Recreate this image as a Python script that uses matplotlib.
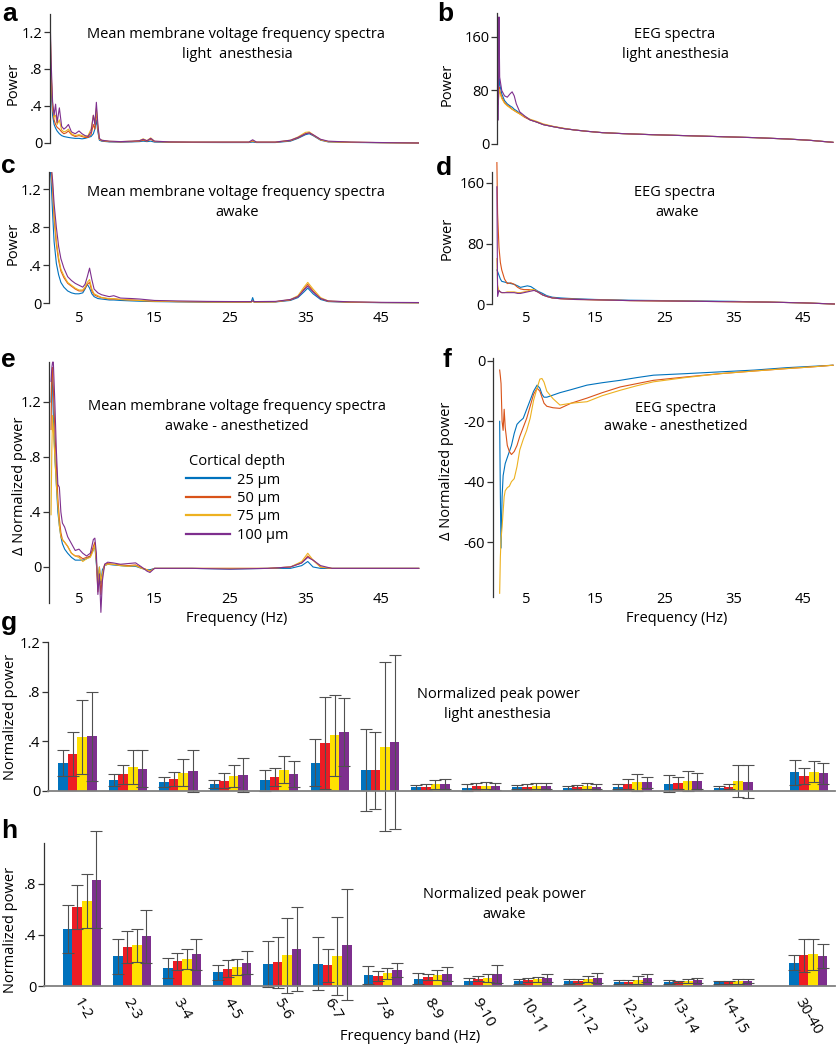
import numpy as np
import matplotlib.pyplot as plt
from matplotlib.lines import Line2D

plt.rcParams['font.family'] = ['Open Sans', 'DejaVu Sans']

# ---------------- data ----------------
depths = ['25 µm', '50 µm', '75 µm', '100 µm']
line_colors = ['#0072BD', '#D95319', '#EDB120', '#7E2F8E']
bar_colors = ['#0072BD', '#ED1C24', '#FFE100', '#7E2F8E']

# a: membrane voltage spectra, light anesthesia
freq_a = [1.15, 1.3, 1.5, 1.7, 1.9, 2.1, 2.4, 2.7, 3.0, 3.3, 3.6, 4.0, 4.5, 5.0, 5.4, 5.8, 6.2, 6.6, 6.9, 7.1,
          7.3, 7.5, 7.7, 8.0, 9.0, 10.5, 12.0, 13.0, 13.5, 14.0, 14.5, 15.0, 17.0, 20.0, 24.0, 27.5, 28.0, 28.5,
          31.0, 33.0, 34.0, 35.0, 35.5, 36.0, 37.0, 38.0, 41.0, 45.0, 50.0]
a_25 = [1.3, 0.6, 0.3, 0.2, 0.16, 0.13, 0.1, 0.08, 0.07, 0.065, 0.06, 0.055, 0.05, 0.05, 0.045, 0.05, 0.06, 0.07,
        0.1, 0.15, 0.25, 0.12, 0.03, 0.02, 0.012, 0.01, 0.012, 0.015, 0.02, 0.015, 0.02, 0.01, 0.008, 0.006, 0.005,
        0.005, 0.01, 0.005, 0.005, 0.02, 0.05, 0.09, 0.1, 0.08, 0.03, 0.012, 0.006, 0.003, 0.0]
a_50 = [1.4, 0.75, 0.38, 0.25, 0.2, 0.17, 0.15, 0.12, 0.1, 0.11, 0.13, 0.09, 0.07, 0.08, 0.07, 0.06, 0.06, 0.09,
        0.2, 0.15, 0.35, 0.15, 0.04, 0.025, 0.015, 0.012, 0.015, 0.02, 0.03, 0.02, 0.04, 0.015, 0.01, 0.008, 0.008,
        0.008, 0.02, 0.008, 0.008, 0.025, 0.055, 0.1, 0.11, 0.085, 0.035, 0.015, 0.008, 0.004, 0.0]
a_75 = [1.38, 0.8, 0.4, 0.28, 0.3, 0.2, 0.25, 0.14, 0.12, 0.13, 0.15, 0.1, 0.08, 0.09, 0.08, 0.07, 0.08, 0.15,
        0.3, 0.22, 0.38, 0.18, 0.04, 0.03, 0.018, 0.015, 0.02, 0.025, 0.045, 0.025, 0.055, 0.018, 0.012, 0.01, 0.01,
        0.01, 0.025, 0.01, 0.01, 0.03, 0.065, 0.115, 0.12, 0.09, 0.035, 0.015, 0.008, 0.004, 0.0]
a_100 = [1.45, 0.9, 0.45, 0.3, 0.42, 0.22, 0.38, 0.18, 0.15, 0.17, 0.2, 0.12, 0.1, 0.13, 0.1, 0.08, 0.07, 0.12,
         0.3, 0.2, 0.44, 0.2, 0.05, 0.03, 0.02, 0.015, 0.02, 0.025, 0.04, 0.025, 0.05, 0.02, 0.012, 0.01, 0.01,
         0.01, 0.035, 0.01, 0.01, 0.03, 0.06, 0.1, 0.11, 0.09, 0.04, 0.02, 0.01, 0.005, 0.0]

# c: membrane voltage spectra, awake
freq_c = [1.15, 1.3, 1.5, 1.7, 2.0, 2.3, 2.6, 3.0, 3.5, 4.0, 4.5, 5.0, 5.5, 5.8, 6.1, 6.4, 6.7, 7.0, 7.5, 8.0,
          9.0, 9.6, 10.5, 12.0, 13.0, 15.0, 18.0, 22.0, 26.0, 27.8, 28.0, 28.2, 31.0, 33.0, 34.0, 34.8, 35.3,
          36.0, 37.0, 38.0, 41.0, 45.0, 50.0]
c_25 = [1.45, 1.3, 0.95, 0.65, 0.42, 0.3, 0.22, 0.17, 0.13, 0.11, 0.1, 0.1, 0.11, 0.15, 0.2, 0.16, 0.1, 0.07,
        0.05, 0.045, 0.035, 0.035, 0.03, 0.025, 0.022, 0.018, 0.015, 0.012, 0.012, 0.012, 0.06, 0.012, 0.014,
        0.03, 0.06, 0.12, 0.16, 0.1, 0.04, 0.018, 0.01, 0.007, 0.005]
c_50 = [1.45, 1.45, 1.2, 0.9, 0.62, 0.45, 0.34, 0.27, 0.21, 0.18, 0.15, 0.13, 0.13, 0.16, 0.2, 0.22, 0.13, 0.09,
        0.07, 0.06, 0.045, 0.045, 0.04, 0.035, 0.03, 0.022, 0.018, 0.015, 0.014, 0.014, 0.025, 0.014, 0.016,
        0.035, 0.07, 0.15, 0.2, 0.13, 0.05, 0.02, 0.012, 0.008, 0.006]
c_75 = [1.45, 1.45, 1.25, 0.95, 0.66, 0.48, 0.36, 0.29, 0.22, 0.19, 0.16, 0.14, 0.14, 0.17, 0.22, 0.25, 0.15,
        0.1, 0.08, 0.06, 0.05, 0.05, 0.04, 0.035, 0.03, 0.023, 0.018, 0.015, 0.014, 0.014, 0.02, 0.014, 0.016,
        0.04, 0.08, 0.17, 0.22, 0.15, 0.06, 0.025, 0.012, 0.008, 0.006]
c_100 = [1.45, 1.45, 1.3, 1.05, 0.8, 0.6, 0.47, 0.37, 0.28, 0.24, 0.21, 0.19, 0.17, 0.2, 0.28, 0.37, 0.25, 0.15,
         0.11, 0.09, 0.07, 0.08, 0.055, 0.05, 0.045, 0.03, 0.025, 0.02, 0.018, 0.018, 0.025, 0.018, 0.02, 0.04,
         0.07, 0.14, 0.18, 0.12, 0.05, 0.025, 0.015, 0.01, 0.008]

# e: membrane voltage, awake - anesthetized
freq_e = [1.3, 1.4, 1.5, 1.6, 1.8, 2.0, 2.2, 2.4, 2.6, 2.8, 3.1, 3.5, 4.0, 4.5, 5.0, 5.5, 6.0, 6.5, 6.9, 7.1,
          7.3, 7.5, 7.7, 7.9, 8.1, 8.4, 8.8, 9.5, 10.5, 11.5, 12.5, 13.3, 14.0, 14.4, 15.0, 17.0, 20.0, 25.0,
          30.0, 33.0, 34.5, 35.3, 36.0, 37.0, 38.5, 42.0, 46.0, 50.0]
e_25 = [1.2, 1.4, 1.3, 1.1, 0.8, 0.6, 0.4, 0.3, 0.22, 0.17, 0.13, 0.1, 0.07, 0.05, 0.05, 0.05, 0.06, 0.08, 0.13,
        0.15, 0.02, -0.1, 0.0, -0.12, -0.02, 0.01, 0.02, 0.015, 0.01, 0.005, 0.005, -0.01, -0.02, -0.02, -0.01,
        -0.01, -0.01, -0.015, -0.01, -0.01, 0.01, 0.04, 0.0, -0.01, -0.01, -0.01, -0.01, -0.01]
e_50 = [1.0, 1.4, 1.45, 1.3, 1.0, 0.75, 0.5, 0.35, 0.25, 0.2, 0.18, 0.15, 0.1, 0.08, 0.08, 0.06, 0.07, 0.08,
        0.15, 0.18, 0.05, -0.18, -0.02, -0.2, -0.05, 0.02, 0.025, 0.02, 0.015, 0.01, 0.015, -0.005, -0.02, -0.03,
        -0.01, -0.01, -0.01, -0.01, -0.01, 0.0, 0.03, 0.08, 0.05, 0.0, -0.01, -0.01, -0.01, -0.01]
e_75 = [0.38, 0.85, 1.1, 1.0, 0.8, 0.6, 0.45, 0.3, 0.22, 0.2, 0.18, 0.15, 0.1, 0.08, 0.07, 0.04, 0.06, 0.07,
        0.12, 0.16, 0.05, -0.15, 0.0, -0.1, -0.05, 0.01, 0.02, 0.02, 0.01, 0.005, 0.01, -0.01, -0.02, -0.03,
        -0.01, -0.01, -0.01, -0.01, -0.01, 0.0, 0.04, 0.1, 0.05, 0.0, -0.01, -0.01, -0.01, -0.01]
e_100 = [1.35, 1.45, 1.49, 1.49, 1.2, 0.85, 0.6, 0.58, 0.4, 0.32, 0.29, 0.22, 0.17, 0.12, 0.13, 0.1, 0.08, 0.1,
         0.2, 0.21, 0.1, -0.2, -0.05, -0.33, -0.1, 0.02, 0.035, 0.03, 0.02, 0.025, 0.03, 0.0, -0.03, -0.04,
         -0.01, -0.01, -0.01, -0.015, -0.01, 0.0, 0.03, 0.07, 0.05, 0.01, -0.01, -0.01, -0.01, -0.01]

# b: EEG, light anesthesia
freq_b = [1.0, 1.1, 1.2, 1.5, 1.9, 2.3, 2.7, 3.0, 3.3, 3.6, 4.1, 4.8, 5.6, 6.5, 7.5, 8.9, 10.5, 12.0, 13.8, 16.0,
          19.0, 23.0, 28.0, 33.0, 38.0, 42.7, 46.0, 49.3]
b_25 = [60, 98, 90, 75, 65, 60, 57, 55, 52, 50, 46, 41, 36, 33, 29, 26, 23, 21, 19, 17, 15.5, 14, 12.5, 11, 9.5,
        7.5, 5.5, 2.5]
b_50 = [60, 85, 80, 70, 62, 58, 55, 52, 50, 48, 45, 40, 36, 33, 29, 26, 23, 21, 19, 17, 15.5, 14, 12.5, 11, 9.5,
        7.5, 5.5, 2.5]
b_75 = [60, 82, 78, 68, 61, 57, 54, 52, 50, 48, 45, 41, 37, 34, 30, 26.5, 23.5, 21, 19, 17, 15.5, 14, 12.5, 11,
        9.5, 7.5, 5.5, 2.5]
b_100 = [36, 190, 100, 80, 72, 70, 75, 78, 72, 60, 48, 42, 36, 33, 29, 26, 23, 21, 19, 17, 15.5, 14, 12.5, 11,
         9.5, 7.5, 5.5, 2.5]

# d: EEG, awake
freq_d = [0.8, 0.9, 1.1, 1.3, 1.5, 1.9, 2.3, 2.8, 3.3, 3.8, 4.2, 4.7, 5.2, 5.7, 6.2, 6.7, 7.4, 8.0, 8.8, 10.0,
          12.0, 15.0, 20.0, 25.0, 30.0, 35.0, 40.0, 45.0, 49.5]
d_25 = [45, 43, 38, 33, 30, 29, 28, 27, 26, 24, 22, 23, 24, 23, 20, 17, 14, 11, 9, 8, 7, 6, 5, 4.5, 4, 3.5, 2.5,
        1.5, 0]
d_50 = [187, 120, 75, 55, 45, 33, 27, 28, 26, 22, 20, 19, 19, 19, 18, 16, 12, 10, 8, 7, 6.5, 5.5, 4.5, 4, 3.5, 3,
        2.5, 1.5, 0]
d_75 = [60, 25, 17, 16, 15, 15, 16, 16, 16, 15, 15, 16, 17, 19, 19, 16, 12, 10, 8, 7, 6, 5.5, 4.5, 4, 3.5, 3,
        2.5, 1.5, 0]
d_100 = [155, 10, 18, 16, 15, 15, 15, 15, 15, 14, 14, 15, 16, 17, 18, 16, 12, 10, 8, 7, 6, 5.5, 4.5, 4, 3.5, 3,
         2.5, 1.5, 0]

# f: EEG, awake - anesthetized
freq_f = [1.2, 1.3, 1.4, 1.55, 1.7, 1.85, 2.0, 2.3, 2.6, 2.9, 3.3, 3.7, 4.1, 4.6, 5.1, 5.6, 6.1, 6.6, 7.0, 7.3,
          7.6, 8.0, 8.9, 9.9, 11.5, 13.8, 16.0, 18.6, 21.0, 23.4, 28.0, 33.0, 38.0, 42.7, 46.0, 49.3]
f_25 = [-20, -45, -62, -45, -38, -36, -34, -32, -30, -28, -24, -21, -20, -19, -16, -13, -10, -8, -9, -11, -12,
        -12, -11.3, -10.5, -9.5, -8, -7.2, -6.4, -5.5, -4.7, -4.2, -3.6, -3.0, -2.2, -1.8, -1.4]
f_50 = [-3, -5, -7.5, -20, -23, -16, -22, -28, -30, -31, -30, -28, -25, -22, -19, -15, -11, -9, -10, -12, -14,
        -15, -15.5, -15.7, -14, -12.3, -10.5, -8.6, -7.5, -6.4, -5.3, -4.2, -3.3, -2.5, -2.0, -1.4]
f_75 = [-77, -65, -59, -55, -50, -45, -43, -42, -41.5, -40, -39, -35, -29.5, -26, -23, -19, -13, -9, -6, -5.8,
        -7, -10, -12.5, -14.6, -14, -13.5, -11.5, -9.7, -8.2, -6.9, -5.5, -4.2, -3.3, -2.5, -2.0, -1.4]

# g, h: normalized peak power per frequency band
bands = ['1-2', '2-3', '3-4', '4-5', '5-6', '6-7', '7-8', '8-9', '9-10', '10-11', '11-12', '12-13', '13-14',
         '14-15', '30-40']
g_25 = [0.228, 0.089, 0.075, 0.056, 0.086, 0.228, 0.172, 0.03, 0.028, 0.03, 0.028, 0.036, 0.058, 0.025, 0.15]
g_50 = [0.297, 0.133, 0.094, 0.083, 0.114, 0.386, 0.169, 0.035, 0.039, 0.036, 0.03, 0.058, 0.064, 0.036, 0.122]
g_75 = [0.436, 0.194, 0.147, 0.122, 0.172, 0.447, 0.358, 0.055, 0.044, 0.042, 0.042, 0.069, 0.08, 0.08, 0.156]
g_100 = [0.44, 0.18, 0.164, 0.128, 0.136, 0.478, 0.394, 0.055, 0.039, 0.039, 0.036, 0.069, 0.08, 0.075, 0.142]
g_25_err = [0.105, 0.05, 0.04, 0.03, 0.086, 0.19, 0.33, 0.02, 0.025, 0.015, 0.016, 0.017, 0.07, 0.017, 0.1]
g_50_err = [0.18, 0.078, 0.056, 0.06, 0.07, 0.37, 0.31, 0.025, 0.022, 0.017, 0.017, 0.04, 0.05, 0.022, 0.064]
g_75_err = [0.3, 0.14, 0.11, 0.09, 0.11, 0.33, 0.68, 0.035, 0.028, 0.022, 0.022, 0.07, 0.078, 0.128, 0.086]
g_100_err = [0.36, 0.15, 0.17, 0.136, 0.105, 0.275, 0.7, 0.04, 0.028, 0.022, 0.022, 0.042, 0.062, 0.133, 0.083]

h_25 = [0.447, 0.234, 0.142, 0.108, 0.174, 0.176, 0.084, 0.058, 0.037, 0.037, 0.037, 0.034, 0.029, 0.029, 0.182]
h_50 = [0.618, 0.303, 0.192, 0.137, 0.187, 0.161, 0.079, 0.071, 0.058, 0.045, 0.042, 0.034, 0.032, 0.029, 0.239]
h_75 = [0.668, 0.318, 0.213, 0.15, 0.239, 0.234, 0.1, 0.087, 0.066, 0.053, 0.053, 0.047, 0.039, 0.037, 0.247]
h_100 = [0.832, 0.389, 0.247, 0.184, 0.287, 0.324, 0.126, 0.095, 0.092, 0.063, 0.066, 0.063, 0.045, 0.037, 0.234]
h_25_err = [0.185, 0.137, 0.08, 0.06, 0.18, 0.21, 0.071, 0.04, 0.029, 0.021, 0.02, 0.016, 0.016, 0.013, 0.058]
h_50_err = [0.17, 0.124, 0.063, 0.066, 0.2, 0.13, 0.04, 0.026, 0.018, 0.016, 0.016, 0.016, 0.01, 0.01, 0.126]
h_75_err = [0.21, 0.13, 0.077, 0.063, 0.29, 0.305, 0.042, 0.042, 0.031, 0.018, 0.024, 0.029, 0.018, 0.021, 0.124]
h_100_err = [0.38, 0.205, 0.12, 0.092, 0.33, 0.434, 0.058, 0.055, 0.071, 0.034, 0.039, 0.034, 0.021, 0.016, 0.095]

freq_ticks = [5, 15, 25, 35, 45]
freq_tick_labels = ['5', '15', '25', '35', '45']

# ---------------- layout helpers (pixel based) ----------------
W, H = 837, 1047
fig = plt.figure(figsize=(W / 100, H / 100), dpi=100)
FS = 10.5
DARK = '#333333'


def lin(p, p0, v0, p1, v1):
    return v0 + (p - p0) * (v1 - v0) / (p1 - p0)


def axes_px(left, right, top, bottom):
    return fig.add_axes([left / W, 1 - bottom / H, (right - left) / W, (bottom - top) / H])


def ftext(x, y, s, **kw):
    kw.setdefault('fontsize', FS)
    kw.setdefault('ha', 'center')
    kw.setdefault('va', 'center')
    return fig.text(x / W, 1 - y / H, s, **kw)


def mm_hz(px):
    return 5 + (px - 79) / 7.55


def eeg_hz(px):
    return 5 + (px - 526) / 6.93


def spectrum(box, hz, ycal, freq, series, yticks, ylabels, label_y=None, spine_bottom=None, clip=True):
    left, right, top, bottom = box
    ax = axes_px(left, right, top, bottom)
    ax.set_xlim(hz(left), hz(right))
    ax.set_ylim(lin(bottom, *ycal), lin(top, *ycal))
    for vals, col in zip(series, line_colors):
        ax.plot(freq, vals, color=col, lw=0.8, clip_on=clip)
    for s in ['top', 'right', 'bottom']:
        ax.spines[s].set_visible(False)
    ax.spines['left'].set_color(DARK)
    ax.spines['left'].set_linewidth(0.9)
    if spine_bottom is not None:
        ax.spines['left'].set_bounds(spine_bottom, lin(top, *ycal))
    ax.set_yticks(yticks, labels=ylabels)
    ax.tick_params(axis='y', length=4, width=0.9, color=DARK, pad=1.5, labelsize=FS)
    ax.set_xticks(freq_ticks, labels=freq_tick_labels)
    ax.tick_params(axis='x', length=0, labelbottom=label_y is not None, labelsize=FS)
    if label_y is not None:
        # place tick labels so their centre sits on the given pixel row
        ax.tick_params(axis='x', pad=(label_y - 7 - bottom) * 0.72)
    ax.patch.set_alpha(0)
    return ax


mm_ticks = [0, 0.4, 0.8, 1.2]
mm_lbls = ['0', '.4', '.8', '1.2']

ax_a = spectrum((50, 419, 14, 147), mm_hz, (143, 0, 32, 1.2), freq_a, [a_25, a_50, a_75, a_100],
                mm_ticks, mm_lbls, spine_bottom=0)
ax_c = spectrum((49, 419, 172, 307), mm_hz, (303.3, 0, 189.3, 1.2), freq_c, [c_25, c_50, c_75, c_100],
                mm_ticks, mm_lbls, label_y=318, spine_bottom=0)
ax_e = spectrum((49, 419, 362, 603), mm_hz, (567, 0, 402, 1.2), freq_e, [e_25, e_50, e_75, e_100],
                mm_ticks, mm_lbls, label_y=599, clip=False)
ax_b = spectrum((497, 835, 13, 147), eeg_hz, (144, 0, 37, 160), freq_b, [b_25, b_50, b_75, b_100],
                [0, 80, 160], ['0', '80', '160'], spine_bottom=0)
ax_d = spectrum((492, 835, 172, 307), eeg_hz, (304, 0, 183, 160), freq_d, [d_25, d_50, d_75, d_100],
                [0, 80, 160], ['0', '80', '160'], label_y=318, spine_bottom=0, clip=False)
ax_f = spectrum((493, 835, 358, 597), eeg_hz, (361, 0, 542, -60), freq_f, [f_25, f_50, f_75],
                [0, -20, -40, -60], ['0', '-20', '-40', '-60'], label_y=599)

# legend in panel e
handles = [Line2D([], [], color=c, lw=1.6) for c in line_colors]
leg = ax_e.legend(handles, depths, title='Cortical depth', loc='upper left',
                  bbox_to_anchor=(186 / W, 1 - 454 / H), bbox_transform=fig.transFigure,
                  frameon=False, fontsize=FS, title_fontsize=FS, handlelength=3.0,
                  handletextpad=0.5, labelspacing=0.24, borderpad=0, borderaxespad=0)

# ---------------- bar panels ----------------
band_pos = np.array(list(range(14)) + [14.5])
bw = 0.19


def bar_panel(box, pos_px, ylim, series, errs, yticks, ylabels):
    left, right, top, bottom = box
    x0, step = pos_px
    ax = axes_px(left, right, top, bottom)
    ax.set_xlim((left - x0) / step, (right - x0) / step)
    ax.set_ylim(*ylim)
    for i, (vals, err, col) in enumerate(zip(series, errs, bar_colors)):
        xs = band_pos + (i - 1.5) * bw
        ax.bar(xs, vals, width=bw, color=col, linewidth=0, zorder=2, clip_on=False)
        ax.errorbar(xs, vals, yerr=err, fmt='none', ecolor='#505050', elinewidth=0.8,
                    capsize=4.5, capthick=0.8, zorder=3, clip_on=False)
    for s in ['top', 'right']:
        ax.spines[s].set_visible(False)
    ax.spines['left'].set_color(DARK)
    ax.spines['left'].set_linewidth(0.9)
    ax.spines['bottom'].set_color('#808080')
    ax.spines['bottom'].set_linewidth(1.3)
    ax.spines['bottom'].set_zorder(4)
    ax.set_yticks(yticks, labels=ylabels)
    ax.tick_params(axis='y', length=4, width=0.9, color=DARK, pad=1.5, labelsize=FS)
    ax.set_xticks(band_pos)
    ax.patch.set_alpha(0)
    return ax


ax_g = bar_panel((48, 835, 642, 791), (77.5, 50.45), (0, 1.2), [g_25, g_50, g_75, g_100],
                 [g_25_err, g_50_err, g_75_err, g_100_err], mm_ticks, mm_lbls)
ax_g.tick_params(axis='x', length=0, labelbottom=False)

ax_h = bar_panel((44, 835, 843, 986), (82, 50.1), (0, 1.12), [h_25, h_50, h_75, h_100],
                 [h_25_err, h_50_err, h_75_err, h_100_err], [0, 0.4, 0.8], ['0', '.4', '.8'])
ax_h.set_xticklabels(bands, rotation=-60, ha='center', va='top')
ax_h.tick_params(axis='x', length=0, pad=7, labelsize=FS + 0.5)

# ---------------- texts ----------------
ftext(236, 34, 'Mean membrane voltage frequency spectra')
ftext(237, 54, 'light  anesthesia')
ftext(675, 35, 'EEG spectra')
ftext(676, 55, 'light anesthesia')
ftext(236, 193, 'Mean membrane voltage frequency spectra')
ftext(237, 213, 'awake')
ftext(675, 193, 'EEG spectra')
ftext(677, 212, 'awake')
ftext(237, 407, 'Mean membrane voltage frequency spectra')
ftext(237, 427, 'awake - anesthetized')
ftext(676, 408, 'EEG spectra')
ftext(676, 427, 'awake - anesthetized')
ftext(498, 695, 'Normalized peak power')
ftext(498, 715, 'light anesthesia')
ftext(504, 895, 'Normalized peak power')
ftext(504, 915, 'awake')

ftext(237, 618, 'Frequency (Hz)')
ftext(677, 618, 'Frequency (Hz)')
ftext(410, 1037, 'Frequency band (Hz)')

ftext(13, 83, 'Power', rotation=90)
ftext(447, 84, 'Power', rotation=90)
ftext(13, 243, 'Power', rotation=90)
ftext(447, 238, 'Power', rotation=90)
ftext(20, 486, 'Δ Normalized power', rotation=90)
ftext(447, 471, 'Δ Normalized power', rotation=90)
ftext(11, 717, 'Normalized power', rotation=90)
ftext(11, 930, 'Normalized power', rotation=90)

letter_kw = dict(fontsize=19, fontweight='bold', family='Liberation Sans', ha='left', va='baseline')
for lx, ly, s in [(2, 21, 'a'), (437, 21, 'b'), (1, 173, 'c'), (436, 175, 'd'),
                  (1, 367, 'e'), (443, 367, 'f'), (1, 630, 'g'), (1, 838, 'h')]:
    ftext(lx, ly, s, **letter_kw)

fig.savefig('out.png', dpi=100)
